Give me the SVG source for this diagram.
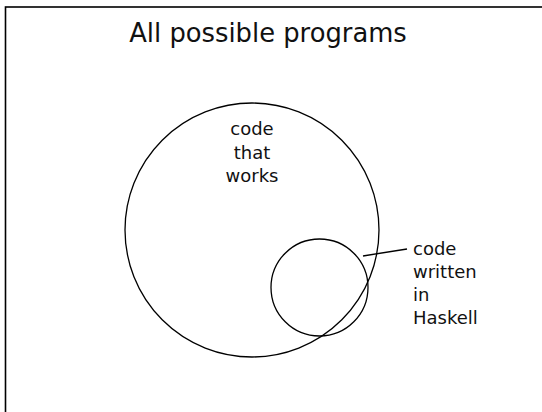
<svg xmlns="http://www.w3.org/2000/svg" width="542" height="412" viewBox="0 0 542 412">
<style>
.t{font-family:"DejaVu Sans",sans-serif;fill:#111}
.c{fill:none;stroke:#000;stroke-width:1.3}
</style>
<rect width="542" height="412" fill="#fff"/>
<rect x="5.5" y="7" width="560" height="430" fill="none" stroke="#000" stroke-width="1.6"/>
<g id="title"><text class="t" x="268" y="42" font-size="25.8" text-anchor="middle">All possible programs</text></g>
<g id="works">
<circle class="c" cx="252" cy="230" r="127"/>
<text class="t" font-size="18" text-anchor="middle"><tspan x="252" y="135">code</tspan><tspan x="252" y="158.5">that</tspan><tspan x="252" y="182">works</tspan></text>
</g>
<g id="haskell">
<circle class="c" cx="319.5" cy="287.5" r="48.5"/>
<text class="t" font-size="18"><tspan x="413" y="255">code</tspan><tspan x="413" y="278">written</tspan><tspan x="413" y="301">in</tspan><tspan x="413" y="324">Haskell</tspan></text>
</g>
<g id="connectors">
<line class="c" x1="363" y1="256" x2="407" y2="249"/>
</g>
</svg>
